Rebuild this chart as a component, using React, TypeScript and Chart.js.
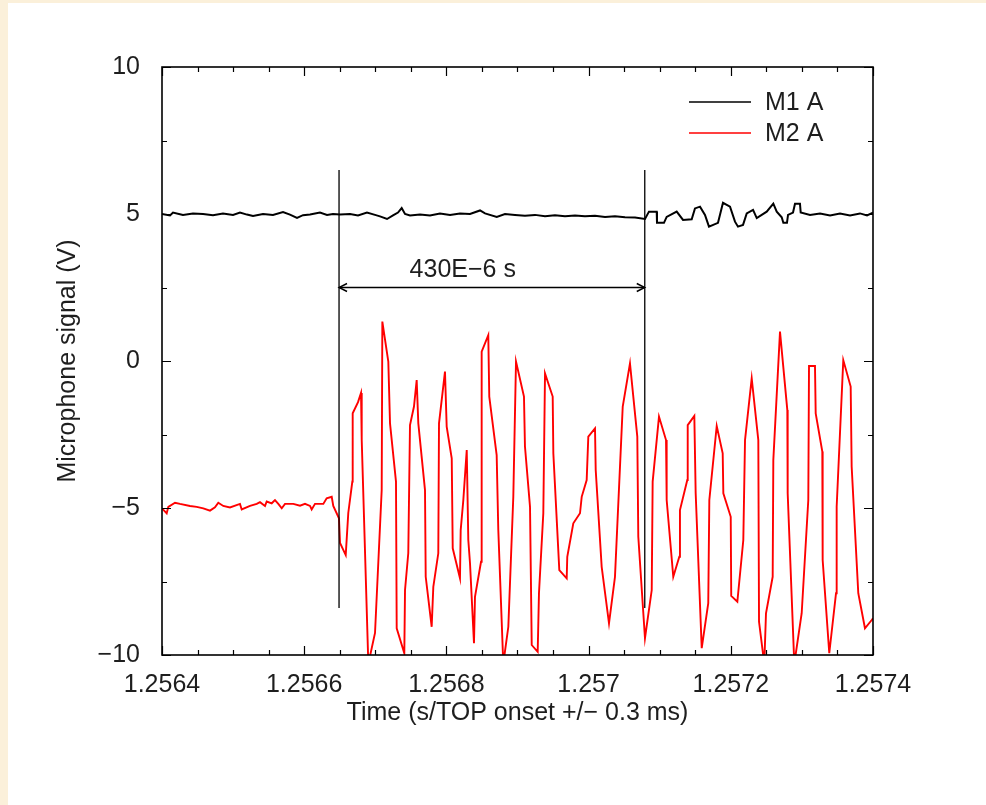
import React, { useEffect, useRef } from "react";
import { Chart, registerables } from "chart.js";

Chart.register(...registerables);

// Time origin of the x axis (s); sample times below are in microseconds after it.
const T0 = 1.2564;
const X_MAX = 1.2574;
const X_MINOR = 0.00005;

// M1 A (black) — time (µs after T0) and signal (V)
const m1Time = [
  0, 11.3, 15.5, 29.5, 43.6, 57.7, 71.7, 85.8, 99.9, 109.7, 119.5, 128.0, 142.1, 156.1, 170.2, 180.0,
  189.9, 198.3, 208.2, 222.2, 232.1, 240.5, 250.4, 264.4, 275.7, 288.3, 299.6, 306.6, 316.5, 324.9,
  331.9, 337.1, 341.8, 348.8, 362.9, 376.9, 391.0, 405.1, 419.1, 433.2, 447.3, 454.3, 470.8, 482.4,
  496.5, 510.5, 524.6, 538.7, 552.7, 566.8, 580.9, 594.9, 609.0, 623.1, 637.1, 651.2, 665.3, 679.3,
  684.9, 695.8, 696.2, 706.0, 709.8, 723.9, 732.8, 745.0, 749.6, 756.7, 763.7, 769.3, 782.0, 789.0,
  798.9, 805.9, 810.1, 817.2, 822.4, 831.3, 836.5, 850.5, 859.8, 864.6, 871.6, 873.9, 879.0, 880.5,
  887.5, 890.3, 897.3, 898.3, 911.4, 925.5, 939.6, 953.6, 967.7, 981.7, 991.6, 1000,
];
const m1Volts = [
  5.0, 4.95, 5.05, 4.97, 5.02, 5.0, 4.96, 5.02, 4.97, 5.05, 4.98, 4.93, 5.0, 4.97, 5.07, 4.98,
  4.87, 4.96, 4.98, 5.05, 4.97, 5.0, 4.98, 5.0, 4.95, 5.05, 4.97, 4.92, 4.83, 4.95,
  5.05, 5.2, 5.0, 4.95, 4.98, 4.95, 5.02, 4.97, 5.02, 5.0, 5.12, 5.02, 4.9, 5.0,
  4.97, 4.94, 4.97, 4.92, 4.96, 4.92, 4.95, 4.92, 4.94, 4.9, 4.92, 4.89, 4.88, 4.83,
  5.08, 5.08, 4.7, 4.7, 4.9, 5.08, 4.8, 4.82, 5.19, 5.25, 4.97, 4.57, 4.7, 5.38,
  5.25, 4.74, 4.57, 4.63, 5.02, 5.14, 4.86, 5.08, 5.35, 5.08, 4.89, 4.7, 4.7, 4.97,
  5.05, 5.35, 5.35, 5.05, 4.97, 5.02, 4.95, 5.02, 4.95, 5.02, 4.95, 5.05,
];

// M2 A (red) — time (µs after T0) and signal (V)
const m2Time = [
  0, 6.6, 8.9, 18.3, 25.3, 39.4, 48.8, 58.1, 67.5, 74.5, 79.2, 86.2, 95.6, 109.7, 112.1, 123.8,
  133.2, 137.8, 144.9, 147.3, 154.3, 158.9, 163.6, 168.4, 173.0, 184.7, 194.1, 201.1, 208.2, 210.5,
  215.2, 226.9, 231.6, 238.7, 240.9, 248.9, 250.4, 258.4, 262.0, 267.7, 268.2, 275.7, 279.9, 280.9,
  290.2, 299.6, 309.0, 309.9, 318.3, 320.7, 329.1, 330.1, 340.8, 341.8, 346.4, 348.8, 354.4, 358.2,
  360.5, 369.9, 370.9, 379.3, 381.6, 388.6, 389.6, 398.0, 400.4, 407.5, 408.9, 419.1, 420.1, 423.8,
  428.6, 430.8, 433.2, 438.8, 440.2, 448.7, 449.6, 458.9, 460.3, 470.7, 473.0, 480.0, 487.1, 494.1,
  497.9, 509.1, 510.5, 517.6, 520.0, 528.4, 530.2, 536.3, 538.7, 549.5, 550.4, 558.8, 569.2, 570.0,
  578.5, 587.9, 590.3, 597.3, 599.6, 609.0, 610.0, 618.4, 628.7, 637.1, 648.0, 658.2, 668.5, 669.9,
  679.3, 688.8, 690.1, 699.0, 708.9, 709.8, 719.1, 727.6, 728.5, 738.8, 739.4, 748.7, 750.6, 759.1,
  768.3, 769.8, 780.2, 788.6, 789.5, 799.9, 800.6, 809.2, 817.6, 820.0, 829.4, 838.7, 839.7, 847.1,
  849.5, 858.9, 859.8, 869.2, 879.5, 880.0, 889.3, 899.7, 909.0, 910.0, 918.4, 919.4, 928.7, 929.2,
  938.5, 948.0, 948.9, 958.2, 968.6, 970.0, 979.3, 988.7, 998.2, 1000,
];
const m2Volts = [
  -5.01, -5.18, -4.96, -4.82, -4.86, -4.93, -4.96, -5.01, -5.09, -4.98, -4.82, -4.93, -4.98, -4.86, -5.05, -4.93,
  -4.86, -4.8, -4.93, -4.78, -4.84, -4.73, -4.86, -5.01, -4.86, -4.86, -4.92, -4.86, -4.93, -5.05,
  -4.86, -4.86, -4.67, -4.62, -4.93, -5.35, -6.19, -6.6, -5.17, -4.1, -1.78, -1.4, -1.09, -2.69,
  -10.3, -9.25, -4.39, 1.34, -0.02, -2.12, -4.1, -9.09, -9.94, -7.79, -6.53, -2.18, -1.55, -0.65,
  -2.12, -4.39, -7.34, -9.04, -7.68, -6.54, -2.12, -0.36, -2.23, -3.31, -6.37, -7.39, -5.75, -4.73,
  -3.03, -6.09, -6.88, -9.6, -8.02, -6.83, 0.32, 0.88, -1.21, -3.2, -5.75, -10.3, -9.04, -4.62,
  -0.02, -1.21, -2.91, -4.96, -9.66, -9.89, -7.9, -5.18, -0.42, -1.21, -3.14, -7.11, -7.39, -6.66,
  -5.52, -5.18, -4.62, -4.05, -2.57, -2.29, -3.71, -7.0, -8.92, -7.34, -1.55, -0.08, -2.57, -5.98,
  -9.43, -7.79, -4.1, -1.89, -2.69, -4.73, -7.34, -6.66, -5.07, -4.05, -2.18, -1.87, -4.5, -9.77,
  -8.24, -4.73, -2.21, -3.14, -4.5, -5.3, -7.99, -8.19, -6.09, -2.69, -0.59, -2.69, -8.87, -10.3,
  -8.58, -7.34, -3.37, 1.0, -1.67, -4.5, -10.3, -8.58, -4.73, -0.17, -0.17, -1.78, -3.08, -6.77,
  -9.94, -7.9, -4.96, 0.03, -0.87, -3.6, -7.9, -9.09, -8.81, -8.75,
];

// Interval markers (µs after T0) and their vertical extent (V)
const markerTimes = [249, 679];
const markerTop = 6.5;
const markerBottom = -8.4;
const arrowLevel = 2.5;
const intervalLabel = "430E\u22126 s";
const intervalLabelTime = 423; // µs after T0, centre of the label
const intervalLabelLevel = 2.85;

const legendLabels = ["M1 A", "M2 A"];
const seriesColors = ["#000000", "#ff0000"];

const FONT = '"Liberation Sans", Arial, Helvetica, sans-serif';
const TEXT = "#1e1e1e";

const toPoints = (t: number[], v: number[]) => t.map((ti, i) => ({ x: T0 + ti * 1e-6, y: v[i] }));

const overlay = {
  id: "overlay",
  afterDatasetsDraw(chart: any) {
    const { ctx, chartArea: a, scales } = chart;
    const x = scales.x;
    const y = scales.y;
    ctx.save();
    // frame
    ctx.strokeStyle = "#000";
    ctx.lineWidth = 1.6;
    ctx.strokeRect(a.left, a.top, a.right - a.left, a.bottom - a.top);
    // inward ticks on all four sides
    ctx.lineWidth = 1.2;
    ctx.beginPath();
    const nX = Math.round((X_MAX - T0) / X_MINOR);
    for (let k = 0; k <= nX; k++) {
      const px = Math.round(x.getPixelForValue(T0 + k * X_MINOR)) + 0.5;
      const len = k % 4 === 0 ? 9 : 5;
      ctx.moveTo(px, a.bottom);
      ctx.lineTo(px, a.bottom - len);
      ctx.moveTo(px, a.top);
      ctx.lineTo(px, a.top + len);
    }
    for (let k = 0; k <= 8; k++) {
      const py = Math.round(y.getPixelForValue(-10 + k * 2.5)) + 0.5;
      const len = k % 2 === 0 ? 9 : 5;
      ctx.moveTo(a.left, py);
      ctx.lineTo(a.left + len, py);
      ctx.moveTo(a.right, py);
      ctx.lineTo(a.right - len, py);
    }
    ctx.stroke();
    // arrow heads
    const ay = y.getPixelForValue(arrowLevel);
    const x1 = x.getPixelForValue(T0 + markerTimes[0] * 1e-6);
    const x2 = x.getPixelForValue(T0 + markerTimes[1] * 1e-6);
    ctx.lineWidth = 1.4;
    ctx.beginPath();
    ctx.moveTo(x1 + 8, ay - 4);
    ctx.lineTo(x1, ay);
    ctx.lineTo(x1 + 8, ay + 4);
    ctx.moveTo(x2 - 8, ay - 4);
    ctx.lineTo(x2, ay);
    ctx.lineTo(x2 - 8, ay + 4);
    ctx.stroke();
    // interval label
    ctx.fillStyle = TEXT;
    ctx.font = `25px ${FONT}`;
    ctx.textAlign = "center";
    ctx.textBaseline = "alphabetic";
    ctx.fillText(
      intervalLabel,
      x.getPixelForValue(T0 + intervalLabelTime * 1e-6),
      y.getPixelForValue(intervalLabelLevel)
    );
    // legend
    ctx.textAlign = "left";
    ctx.textBaseline = "middle";
    legendLabels.forEach((lab, i) => {
      const ly = a.top + 35 + i * 31;
      ctx.strokeStyle = seriesColors[i];
      ctx.lineWidth = 1.3;
      ctx.beginPath();
      ctx.moveTo(a.right - 184, ly);
      ctx.lineTo(a.right - 122, ly);
      ctx.stroke();
      ctx.fillStyle = TEXT;
      ctx.fillText(lab, a.right - 108, ly + 1);
    });
    ctx.restore();
  },
};

export default function App() {
  const ref = useRef<HTMLCanvasElement>(null);
  useEffect(() => {
    if (!ref.current) return;
    const markerSets = markerTimes.map((t) => ({
      data: [
        { x: T0 + t * 1e-6, y: markerTop },
        { x: T0 + t * 1e-6, y: markerBottom },
      ],
      borderColor: "#000",
      borderWidth: 1.3,
      showLine: true,
      pointRadius: 0,
    }));
    const chart = new Chart(ref.current, {
      type: "scatter",
      data: {
        datasets: [
          ...markerSets,
          {
            data: [
              { x: T0 + markerTimes[0] * 1e-6, y: arrowLevel },
              { x: T0 + markerTimes[1] * 1e-6, y: arrowLevel },
            ],
            borderColor: "#000",
            borderWidth: 1.3,
            showLine: true,
            pointRadius: 0,
          },
          {
            label: legendLabels[0],
            data: toPoints(m1Time, m1Volts),
            borderColor: seriesColors[0],
            borderWidth: 2,
            showLine: true,
            pointRadius: 0,
            tension: 0,
          },
          {
            label: legendLabels[1],
            data: toPoints(m2Time, m2Volts),
            borderColor: seriesColors[1],
            borderWidth: 1.9,
            showLine: true,
            pointRadius: 0,
            tension: 0,
          },
        ],
      },
      options: {
        animation: false,
        responsive: false,
        events: [],
        layout: { padding: { left: 0, top: 64, right: 113, bottom: 0 } },
        plugins: { legend: { display: false }, tooltip: { enabled: false } },
        scales: {
          x: {
            type: "linear",
            min: T0,
            max: X_MAX,
            grid: { display: false },
            border: { display: false },
            ticks: {
              stepSize: 0.0002,
              autoSkip: false,
              maxRotation: 0,
              padding: 7,
              color: TEXT,
              font: { family: FONT, size: 25 },
              callback: (v: any) => String(Number(Number(v).toFixed(4))),
            },
            title: {
              display: true,
              text: "Time (s/TOP onset +/\u2212 0.3 ms)",
              color: TEXT,
              font: { family: FONT, size: 25 },
              padding: { top: 0, bottom: 77 },
            },
            afterFit: (s: any) => {
              s.height = 150;
            },
          },
          y: {
            min: -10,
            max: 10,
            grid: { display: false },
            border: { display: false },
            ticks: {
              stepSize: 5,
              padding: 14,
              color: TEXT,
              font: { family: FONT, size: 25 },
              callback: (v: any) => String(v).replace("-", "\u2212"),
            },
            title: {
              display: true,
              text: "Microphone signal (V)",
              color: TEXT,
              font: { family: FONT, size: 25 },
              padding: { top: 45, bottom: 0 },
            },
            afterFit: (s: any) => {
              s.width = 154;
            },
          },
        },
      },
      plugins: [overlay],
    });
    return () => chart.destroy();
  }, []);
  return (
    <div style={{ position: "fixed", inset: 0, background: "#fbf0da" }}>
      <canvas
        ref={ref}
        width={978}
        height={802}
        style={{ position: "absolute", left: 8, top: 3, background: "#ffffff" }}
      />
    </div>
  );
}
